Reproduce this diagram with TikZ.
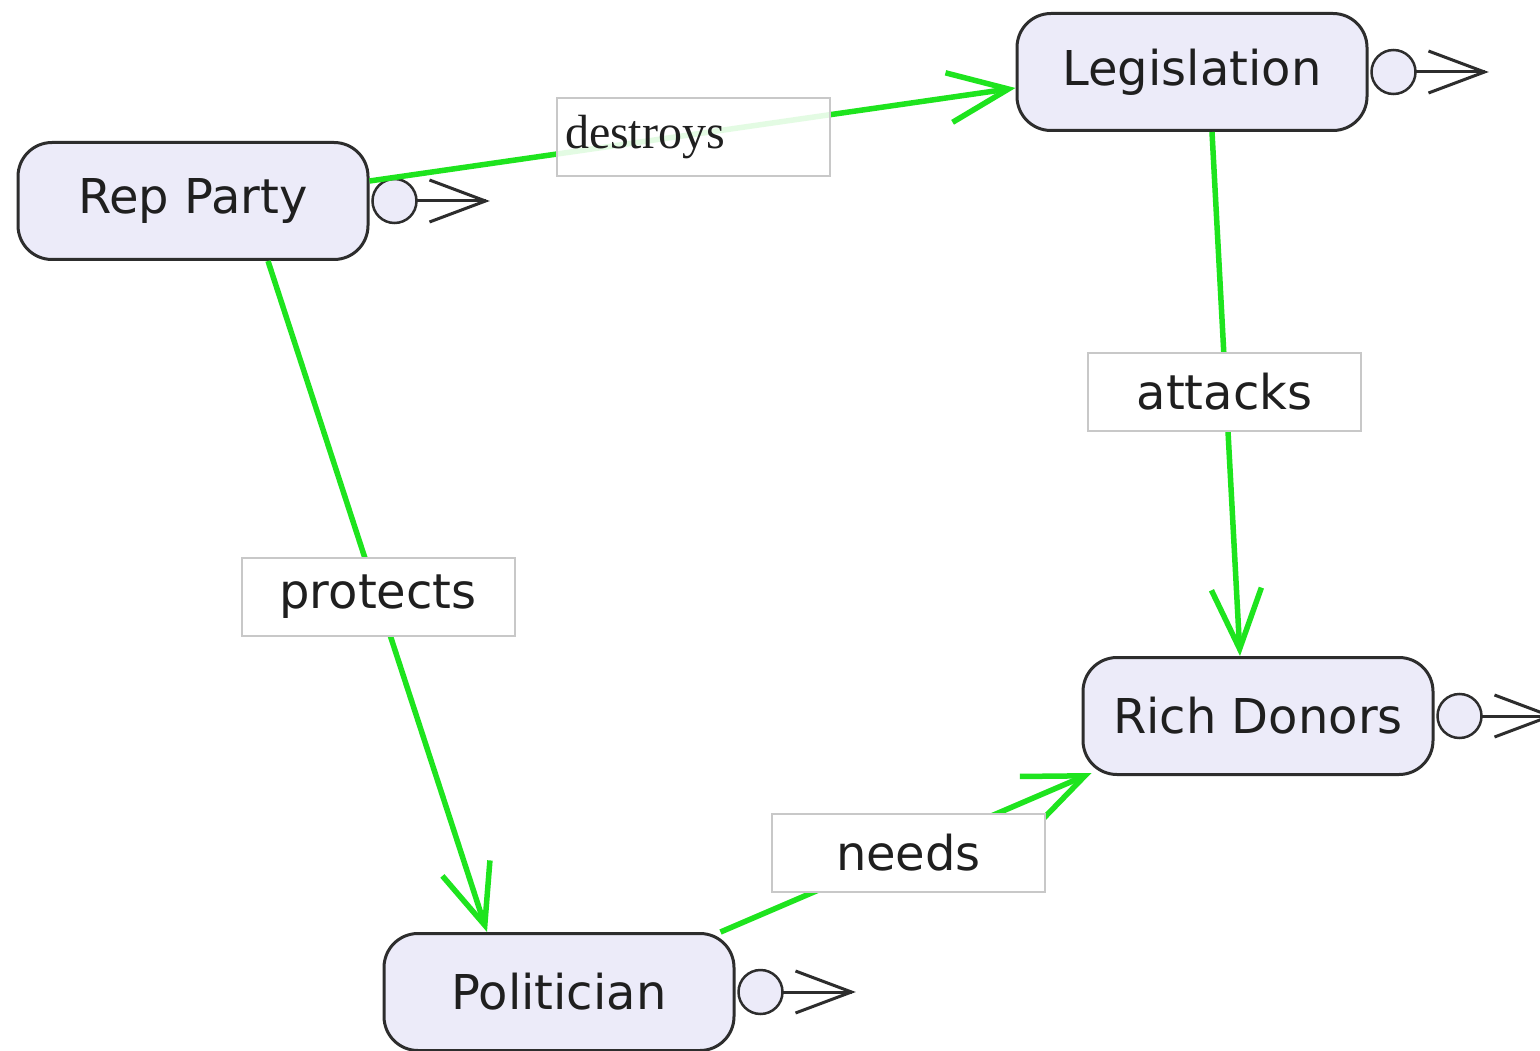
\documentclass[tikz,border=0pt]{standalone}
\usepackage{fontspec}
\setmainfont{DejaVu Sans}
\newfontfamily\labelserif{Liberation Serif}
\usetikzlibrary{arrows.meta}
\definecolor{linkgreen}{RGB}{30,228,30}
\definecolor{conceptfill}{RGB}{236,235,249}
\definecolor{conceptline}{RGB}{45,45,45}
\definecolor{tagline}{RGB}{200,200,200}

% outgoing-port marker: small circle with an open arrow to the right of a concept
\newcommand\portmark[1]{%
  \draw[conceptline, line width=3pt] ([xshift=47pt]#1.east) -- ([xshift=116pt]#1.east);
  \draw[conceptline, line width=3pt, line join=miter]
    ([xshift=60pt,yshift=21pt]#1.east) -- ([xshift=116pt]#1.east) -- ([xshift=60pt,yshift=-21pt]#1.east);
  \draw[conceptline, line width=2.5pt, fill=conceptfill] ([xshift=25pt]#1.east) circle[radius=22pt];
}

\begin{document}
\begin{tikzpicture}[x=1pt,y=-1pt,
  concept/.style={draw=conceptline, line width=3pt, fill=conceptfill,
    rounded corners=34pt, minimum width=350pt, minimum height=117pt,
    inner sep=0pt, font=\fontsize{48}{56}\selectfont, text=black!88},
  tag/.style={draw=tagline, line width=2pt, fill=white,
    minimum width=273pt, minimum height=78pt, inner sep=0pt,
    font=\fontsize{48}{56}\selectfont, text=black!88},
  link/.style={draw=linkgreen, line width=5.5pt,
    -{Straight Barb[length=60pt, width=50pt]}},
]
\fill[white] (0,0) rectangle (1540,1051);
\useasboundingbox (0,0) rectangle (1540,1051);

% concepts
\node[concept] (rep)  at (193,201)  {Rep Party};
\node[concept] (leg)  at (1192,72)  {Legislation};
\node[concept] (rich) at (1258,716) {Rich Donors};
\node[concept] (pol)  at (559,992)  {Politician};

\portmark{rep}
\portmark{leg}
\portmark{rich}
\portmark{pol}

% relations
\draw[link] ([yshift=20pt]rep.east) -- ([yshift=-16pt]leg.west);
\draw[link] ([xshift=75pt]rep.south) -- ([xshift=-72pt]pol.north);
\draw[link] ([xshift=20pt]leg.south) -- ([xshift=-18pt]rich.north);
\draw[link] ([xshift=-15pt]pol.north east) -- ([xshift=10pt,yshift=3pt]rich.south west);

% relation labels
\node[tag, fill opacity=0.88, text opacity=1, inner xsep=8pt, text width=257pt,
  align=left, font=\labelserif\fontsize{48}{56}\selectfont] (tdes) at (693.5,137) {destroys};
\node[tag] (tpro) at (378,596.5) {protects};
\node[tag] (tatt) at (1224.5,392) {attacks};
\node[tag] (tnee) at (908.5,853) {needs};
\end{tikzpicture}
\end{document}
